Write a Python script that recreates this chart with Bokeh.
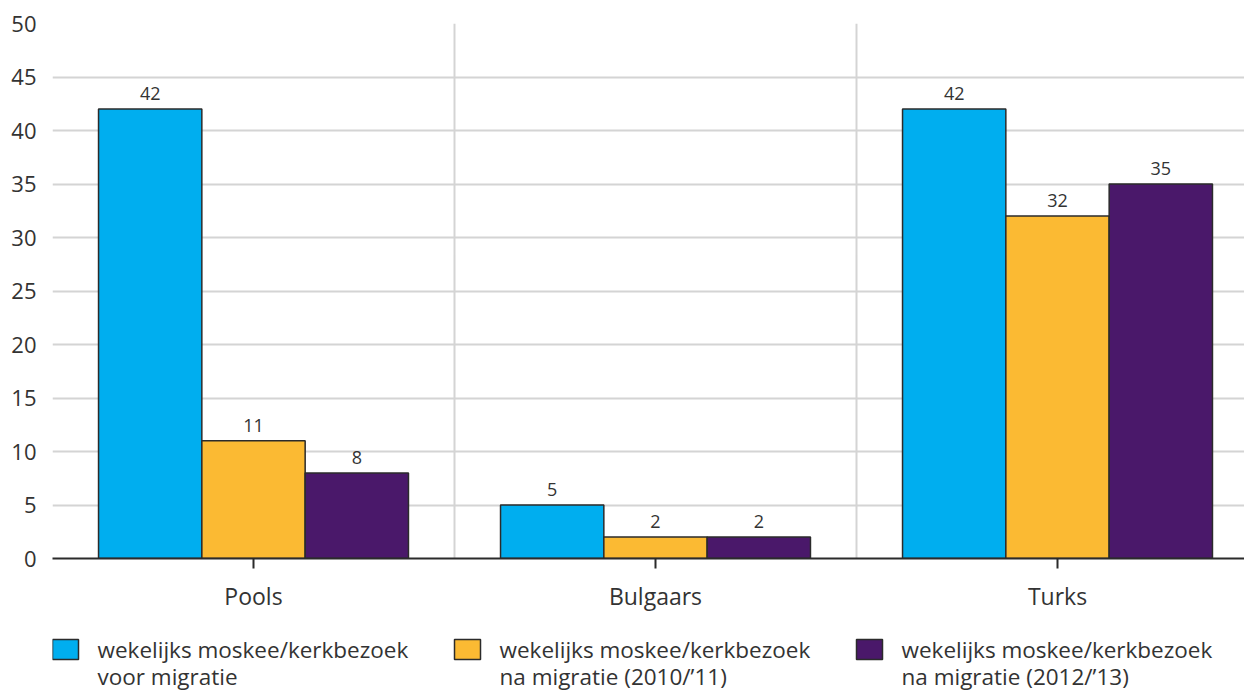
from bokeh.plotting import figure
from bokeh.layouts import column
from bokeh.models import Range1d, FixedTicker, ColumnDataSource
from bokeh.core.properties import value
from bokeh.embed import file_html
from bokeh.resources import INLINE

categories = ["Pools", "Bulgaars", "Turks"]
series_line1 = ["wekelijks moskee/kerkbezoek"] * 3
series_line2 = ["voor migratie", "na migratie (2010/\u201911)", "na migratie (2012/\u201913)"]
voor_migratie = [42, 5, 42]
na_migratie_2010 = [11, 2, 32]
na_migratie_2012 = [8, 2, 35]
y_ticks = [0, 5, 10, 15, 20, 25, 30, 35, 40, 45, 50]

colors = ["#00AEEF", "#FBBA33", "#4A186A"]
FONT = "Open Sans"
TXT = "#333333"
CAT_PX = 402
FRAME_W = 1192
LEFT = 52

p = figure(frame_width=FRAME_W, frame_height=535, output_backend="svg", toolbar_location=None,
           x_range=Range1d(0, FRAME_W / CAT_PX), y_range=Range1d(0, 50),
           min_border_left=LEFT, min_border_right=0, min_border_top=23,
           min_border_bottom=0)
p.outline_line_color = None

bw = 0.257
offsets = [-bw, 0, bw]
for vals, off, col in zip([voor_migratie, na_migratie_2010, na_migratie_2012], offsets, colors):
    xs = [i + 0.5 + off for i in range(len(categories))]
    src = ColumnDataSource(dict(x=xs, top=vals, lab=[str(v) for v in vals]))
    p.vbar(x="x", top="top", bottom=0, width=bw, source=src,
           fill_color=col, line_color="#2b2b2b", line_width=1.5)
    p.text(x="x", y="top", text="lab", source=src, text_align="center",
           text_baseline="bottom", y_offset=-9, text_font=value(FONT),
           text_font_size="18px", text_color=TXT)

p.xaxis.ticker = FixedTicker(ticks=[i + 0.5 for i in range(len(categories))])
p.xaxis.major_label_overrides = {i + 0.5: c for i, c in enumerate(categories)}
p.xaxis.axis_line_color = "#2b2b2b"
p.xaxis.axis_line_width = 2
p.xaxis.major_tick_line_color = "#2b2b2b"
p.xaxis.major_tick_line_width = 2
p.xaxis.major_tick_out = 10
p.xaxis.major_tick_in = 0
p.xaxis.minor_tick_line_color = None
p.xaxis.major_label_standoff = 11
p.xaxis.major_label_text_font = FONT
p.xaxis.major_label_text_font_size = "23px"
p.xaxis.major_label_text_color = TXT

p.yaxis.ticker = FixedTicker(ticks=y_ticks)
p.yaxis.axis_line_color = None
p.yaxis.major_tick_line_color = None
p.yaxis.minor_tick_line_color = None
p.yaxis.major_label_standoff = 10
p.yaxis.major_label_text_font = FONT
p.yaxis.major_label_text_font_size = "22px"
p.yaxis.major_label_text_color = TXT

p.xgrid.ticker = FixedTicker(ticks=list(range(len(categories) + 1)))
p.xgrid.grid_line_color = "#d4d4d4"
p.xgrid.grid_line_width = 2
p.ygrid.grid_line_color = "#d4d4d4"
p.ygrid.grid_line_width = 2

# legend strip below (pixel-based ranges)
LEG_H = 78
p2 = figure(frame_width=FRAME_W, frame_height=LEG_H, output_backend="svg", toolbar_location=None,
            x_range=Range1d(0, FRAME_W), y_range=Range1d(0, LEG_H),
            x_axis_location=None, y_axis_location=None,
            min_border_left=LEFT, min_border_right=0, min_border_top=0, min_border_bottom=0)
p2.outline_line_color = None
p2.grid.visible = False
leg_x = [i * CAT_PX for i in range(len(colors))]
leg_src = ColumnDataSource(dict(x=[x + 13 for x in leg_x], tx=[x + 45 for x in leg_x],
                                c=colors, l1=series_line1, l2=series_line2))
p2.rect(x="x", y=LEG_H - 35, width=26, height=20, source=leg_src,
        fill_color="c", line_color="#2b2b2b", line_width=1.5)
p2.text(x="tx", y=LEG_H - 35, text="l1", source=leg_src, text_baseline="middle",
        text_font=value(FONT), text_font_size="22.5px", text_color=TXT)
p2.text(x="tx", y=LEG_H - 62, text="l2", source=leg_src, text_baseline="middle",
        text_font=value(FONT), text_font_size="22.5px", text_color=TXT)

layout = column(p, p2, spacing=0)
open("out.html", "w").write(file_html(layout, INLINE))
